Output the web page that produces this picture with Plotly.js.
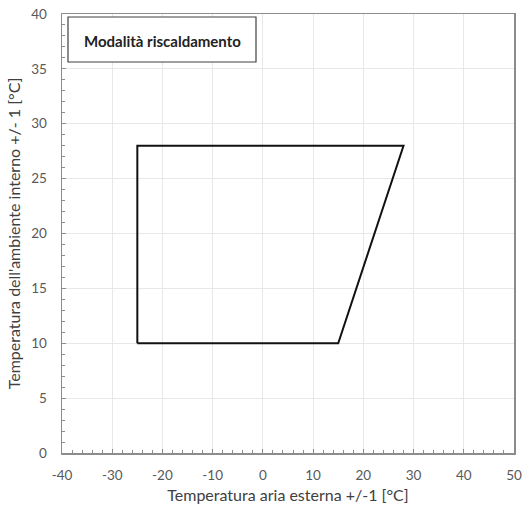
<!DOCTYPE html>
<html>
<head>
<meta charset="utf-8">
<script src="https://cdn.plot.ly/plotly-3.0.1.min.js"></script>
<style>html,body{margin:0;padding:0;background:#fff;}#chart{width:522px;height:510px;}</style>
</head>
<body>
<div id="chart"></div>
<script>
// Operating envelope (heating mode)
const outdoorTemp = [-25, 15, 28, -25, -25];
const indoorTemp = [10, 10, 28, 28, 10];
const xTickVals = [-40, -30, -20, -10, 0, 10, 20, 30, 40, 50];
const xTickText = ['-40', '-30', '-20', '-10', '0', '10', '20', '30', '40', '50'];
const yTickVals = [0, 5, 10, 15, 20, 25, 30, 35, 40];
const yTickText = ['0', '5', '10', '15', '20', '25', '30', '35', '40'];
const xTitle = "Temperatura aria esterna +/-1 [°C]";
const yTitle = "Temperatura dell'ambiente interno +/- 1 [°C]";
const boxLabel = "Modalità riscaldamento";

const font = "Lato, 'Open Sans', sans-serif";
const trace = {
  x: outdoorTemp, y: indoorTemp, type: 'scatter', mode: 'lines',
  line: {color: '#111', width: 2}, hoverinfo: 'skip', showlegend: false
};
const axisCommon = {
  showline: true, linecolor: '#8c8c8c', linewidth: 1.5, mirror: true,
  ticks: 'inside', ticklen: 4, tickcolor: '#8c8c8c', tickwidth: 1,
  gridcolor: '#e8e8e8', gridwidth: 1, zeroline: false,
  tickmode: 'array',
  tickfont: {family: font, size: 13.5, color: '#595959'}
};
const layout = {
  width: 522, height: 510,
  margin: {l: 62, r: 8, t: 14, b: 57},
  paper_bgcolor: '#fff', plot_bgcolor: '#fff',
  xaxis: Object.assign({}, axisCommon, {
    range: [-40, 50], tickvals: xTickVals, ticktext: xTickText,
    ticklabelstandoff: 9,
    minor: {tickmode: 'linear', tick0: -40, dtick: 2, ticks: 'inside', ticklen: 3, tickcolor: '#8c8c8c', showgrid: false},
    title: {text: xTitle, font: {family: font, size: 16, color: '#404040'}, standoff: 8}
  }),
  yaxis: Object.assign({}, axisCommon, {
    range: [0, 40], tickvals: yTickVals, ticktext: yTickText,
    ticklabelstandoff: 11,
    minor: {tickmode: 'linear', tick0: 0, dtick: 1, ticks: 'inside', ticklen: 3, tickcolor: '#8c8c8c', showgrid: false},
    title: {text: yTitle, font: {family: font, size: 16, color: '#404040'}, standoff: 6}
  }),
  shapes: [{
    type: 'rect', xref: 'paper', yref: 'paper',
    x0: (68 - 62) / 452, x1: (256 - 62) / 452,
    y0: (453 - 62) / 439, y1: (453 - 17) / 439,
    line: {color: '#404040', width: 1.2}, fillcolor: '#fff', layer: 'above'
  }],
  annotations: [{
    xref: 'paper', yref: 'paper',
    x: (162 - 62) / 452, y: (453 - 41) / 439,
    xanchor: 'center', yanchor: 'middle',
    text: '<b>' + boxLabel + '</b>', showarrow: false,
    font: {family: font, size: 15, color: '#222'}
  }]
};
Plotly.newPlot('chart', [trace], layout, {displayModeBar: false, staticPlot: true});
</script>
</body>
</html>
